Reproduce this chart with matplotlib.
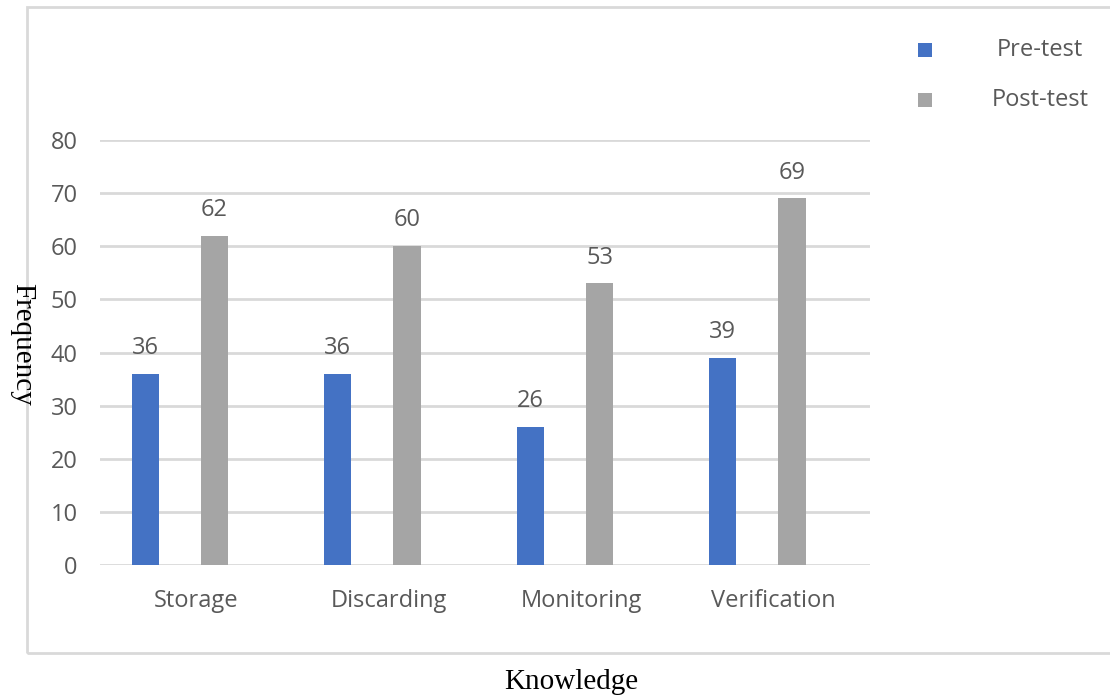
import matplotlib.pyplot as plt
import matplotlib.patches as mpatches
import numpy as np

categories = ["Storage", "Discarding", "Monitoring", "Verification"]
pre_test = [36, 36, 26, 39]
post_test = [62, 60, 53, 69]
y_ticks = [0, 10, 20, 30, 40, 50, 60, 70, 80]

blue = "#4472C4"
grey = "#A5A5A5"
text_grey = "#595959"
grid_grey = "#D9D9D9"

W, H = 1110, 697
fig = plt.figure(figsize=(W / 100, H / 100), dpi=100)
fig.patch.set_facecolor("white")

# chart frame, runs off the right edge
frame = mpatches.Rectangle((27 / W, 1 - 653 / H), 1.2, (653 - 7) / H,
                           transform=fig.transFigure, fill=False,
                           edgecolor=grid_grey, linewidth=2, clip_on=False)
fig.patches.append(frame)

ax = fig.add_axes([100 / W, 132 / H, 770 / W, 425 / H])
x = np.arange(len(categories))
bw = 0.142
b1 = ax.bar(x - 0.265, pre_test, bw, color=blue, label="Pre-test", zorder=3)
b2 = ax.bar(x + 0.095, post_test, bw, color=grey, label="Post-test", zorder=3)

font = "Open Sans"
for bars in (b1, b2):
    for rect in bars:
        h = rect.get_height()
        ax.annotate(f"{h:g}", (rect.get_x() + rect.get_width() / 2, h),
                    xytext=(0, 10), textcoords="offset points",
                    ha="center", va="bottom", fontsize=17,
                    color=text_grey, family=font)

ax.set_xlim(-0.5, len(categories) - 0.5)
ax.set_ylim(0, 80)
ax.set_yticks(y_ticks)
ax.set_xticks(x)
ax.set_xticklabels(categories)
ax.tick_params(axis="both", length=0, labelsize=17, labelcolor=text_grey)
ax.tick_params(axis="y", pad=16)
ax.tick_params(axis="x", pad=17)
for lab in ax.get_xticklabels() + ax.get_yticklabels():
    lab.set_family(font)

ax.grid(axis="y", color=grid_grey, linewidth=2, zorder=0)
for s in ax.spines.values():
    s.set_visible(False)

# legend drawn by hand on the right
for label, color, yy in (("Pre-test", blue, 50), ("Post-test", grey, 100)):
    fig.patches.append(mpatches.Rectangle((918 / W, 1 - (yy + 7) / H), 14 / W, 14 / H,
                                          transform=fig.transFigure,
                                          facecolor=color, edgecolor="none"))
    fig.text(1040 / W, 1 - yy / H, label, ha="center", va="center",
             fontsize=17, color=text_grey, family=font)

fig.text(22 / W, 1 - 344 / H, "Frequency", rotation=-90, ha="center", va="center",
         fontsize=21, family="Liberation Serif", color="black")
fig.text(571 / W, 1 - 682 / H, "Knowledge", ha="center", va="center",
         fontsize=21, family="Liberation Serif", color="black")

fig.savefig("out.png", dpi=100)
